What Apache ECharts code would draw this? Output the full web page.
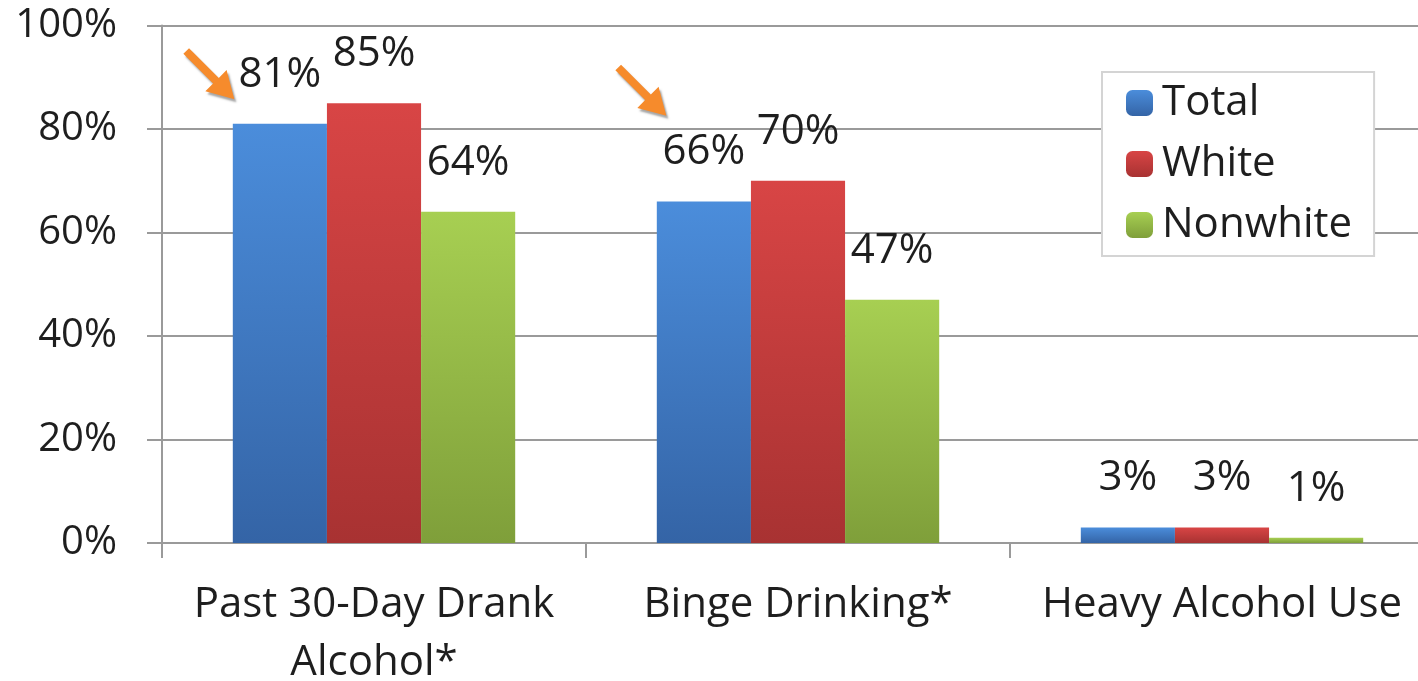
<!DOCTYPE html>
<html>
<head>
<meta charset="utf-8">
<script src="https://cdn.jsdelivr.net/npm/echarts@6/dist/echarts.min.js"></script>
<style>
html,body{margin:0;padding:0;background:#fff;}
#chart{width:1418px;height:681px;}
</style>
</head>
<body>
<div id="chart"></div>
<script>
var categories = ['Past 30-Day Drank\nAlcohol*', 'Binge Drinking*', 'Heavy Alcohol Use'];
var seriesNames = ['Total', 'White', 'Nonwhite'];
var totalValues = [81, 66, 3];
var whiteValues = [85, 70, 3];
var nonwhiteValues = [64, 47, 1];
var yTicks = [0, 20, 40, 60, 80, 100];
// annotation arrows: category index, value (data space), x shift in px from the Total bar
var arrowMarks = [[0, 90.7, -71], [1, 87.5, -63]];

var FONT = 'Open Sans';
var TXT = '#1e1e1e';

function grad(top, bottom) {
  return new echarts.graphic.LinearGradient(0, 0, 0, 1, [
    {offset: 0, color: top}, {offset: 1, color: bottom}
  ]);
}
var colors = [grad('#4b8ddb', '#3464a6'), grad('#d84545', '#a83232'), grad('#a7cf52', '#7f9f3a')];

var arrowPath = 'path://M5.66,0 L35.36,29.7 L43.14,21.92 L50.91,50.91 L21.92,43.14 L29.7,35.36 L0,5.66 Z';

function makeSeries(name, data, idx) {
  var s = {
    name: name,
    type: 'bar',
    data: data,
    barGap: '0%',
    barCategoryGap: '33.4%',
    itemStyle: {color: colors[idx]},
    label: {
      show: true,
      position: 'top',
      distance: 28,
      formatter: '{c}%',
      fontFamily: FONT,
      fontSize: 42,
      color: TXT
    }
  };
  if (idx === 0) {
    s.markPoint = {
      symbol: arrowPath,
      symbolSize: [51, 51],
      symbolKeepAspect: true,
      label: {show: false},
      itemStyle: {
        color: '#f68b2c',
        shadowColor: 'rgba(0,0,0,0.35)',
        shadowBlur: 2,
        shadowOffsetX: 2,
        shadowOffsetY: 3
      },
      data: arrowMarks.map(function (a) {
        return {coord: [a[0], a[1]], symbolOffset: [a[2], 0]};
      })
    };
  }
  return s;
}

var chart = echarts.init(document.getElementById('chart'), null, {renderer: 'canvas'});
chart.setOption({
  animation: false,
  backgroundColor: '#fff',
  textStyle: {fontFamily: FONT},
  grid: {left: 162, right: -16, top: 25.5, bottom: 138, containLabel: false, outerBoundsMode: 'none'},
  legend: {
    orient: 'vertical',
    left: 1102,
    top: 72,
    padding: [10, 22, 10, 24],
    itemWidth: 27,
    itemHeight: 26,
    itemGap: 19,
    backgroundColor: '#fff',
    borderColor: '#d4d4d4',
    borderWidth: 2,
    textStyle: {fontFamily: FONT, fontSize: 42, color: TXT, lineHeight: 41, padding: [0, 0, 0, 4]},
    data: seriesNames
  },
  xAxis: {
    type: 'category',
    data: categories,
    boundaryGap: true,
    axisLine: {show: true, lineStyle: {color: '#9a9a9a', width: 2}},
    axisTick: {show: true, length: 15, interval: 0, lineStyle: {color: '#9a9a9a', width: 2}},
    axisLabel: {
      interval: 0,
      margin: 33,
      fontFamily: FONT,
      fontSize: 42,
      lineHeight: 58,
      color: TXT
    }
  },
  yAxis: {
    type: 'value',
    min: yTicks[0],
    max: yTicks[yTicks.length - 1],
    interval: yTicks[1] - yTicks[0],
    axisLine: {show: true, lineStyle: {color: '#9a9a9a', width: 2}},
    axisTick: {show: true, length: 15, lineStyle: {color: '#9a9a9a', width: 2}},
    splitLine: {show: true, lineStyle: {color: '#9a9a9a', width: 2}},
    axisLabel: {
      margin: 45,
      fontFamily: FONT,
      fontSize: 40,
      color: TXT,
      formatter: '{value}%'
    }
  },
  series: [
    makeSeries(seriesNames[0], totalValues, 0),
    makeSeries(seriesNames[1], whiteValues, 1),
    makeSeries(seriesNames[2], nonwhiteValues, 2)
  ]
});
</script>
</body>
</html>
